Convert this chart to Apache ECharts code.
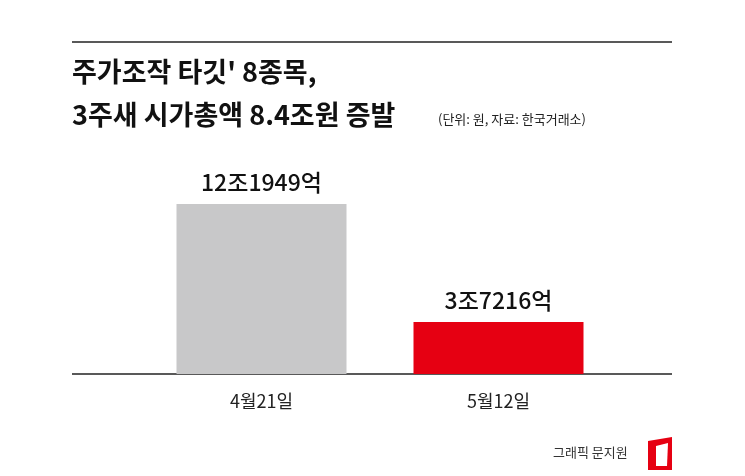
<!DOCTYPE html>
<html><head><meta charset="utf-8">
<script src="https://cdn.jsdelivr.net/npm/echarts@6/dist/echarts.min.js"></script>
<style>html,body{margin:0;padding:0;background:#fff}#c{width:745px;height:476px}</style>
</head><body><div id="c"></div>
<script>
const categories = ['4월21일', '5월12일'];
const values = [12.1949, 3.7216];
const valueLabels = ['12조1949억', '3조7216억'];
const barColors = ['#c8c8c9', '#e60012'];
const F = '"Noto Sans CJK KR", sans-serif';
const chart = echarts.init(document.getElementById('c'));
chart.setOption({
  animation: false,
  grid: { left: 143, right: 128, top: 204, bottom: 102 },
  xAxis: { type: 'category', data: categories,
    axisLine: { show: false }, axisTick: { show: false },
    axisLabel: { color: '#222', fontSize: 18, fontFamily: F, margin: 18, letterSpacing: -1 } },
  yAxis: { type: 'value', min: 0, max: values[0], show: false, splitLine: { show: false } },
  series: [{ type: 'bar', barWidth: 170,
    data: values.map((v, i) => ({ value: v, itemStyle: { color: barColors[i] } })),
    label: { show: true, position: 'top', distance: 10, fontFamily: F, fontSize: 23, fontWeight: 500, color: '#111',
      letterSpacing: -1.5, formatter: p => valueLabels[p.dataIndex] } }],
  graphic: [
    { type: 'line', shape: { x1: 72, y1: 42, x2: 672, y2: 42 }, style: { stroke: '#222', lineWidth: 1.5 } },
    { type: 'line', shape: { x1: 72, y1: 374, x2: 672, y2: 374 }, style: { stroke: '#222', lineWidth: 1.5 } },
    { type: 'text', left: 72, top: 58, style: { text: '주가조작 타깃\' 8종목,', font: 'bold 27px ' + F, fill: '#111', letterSpacing: -2 } },
    { type: 'text', left: 72, top: 101, style: { text: '3주새 시가총액 8.4조원 증발', font: 'bold 27px ' + F, fill: '#111', letterSpacing: -2 } },
    { type: 'text', left: 438, top: 113, style: { text: '(단위: 원, 자료: 한국거래소)', font: '13px ' + F, fill: '#222', letterSpacing: -0.5 } },
    { type: 'text', left: 553, top: 446, style: { text: '그래픽 문지원', font: '13px ' + F, fill: '#333', letterSpacing: -0.5 } },
    { type: 'polygon', shape: { points: [[648,441],[672,437],[672,470],[648,470]] }, style: { fill: '#e60012' } },
    { type: 'polygon', shape: { points: [[656,446],[668,443],[667,466],[656,466]] }, style: { fill: '#fff' } }
  ]
});
</script></body></html>
